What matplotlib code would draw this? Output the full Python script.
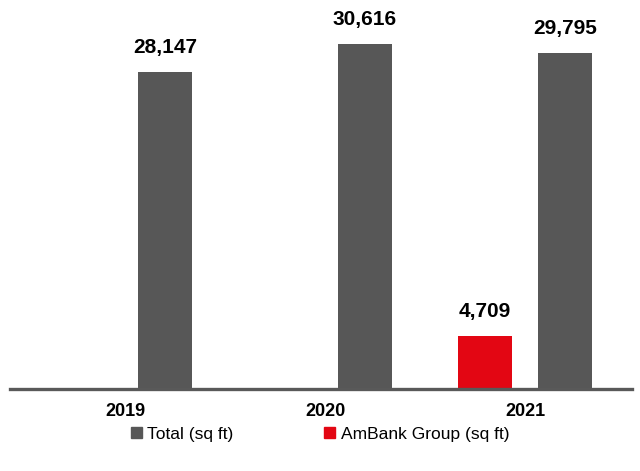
import matplotlib.pyplot as plt
from matplotlib.patches import Patch
import numpy as np

plt.rcParams['font.family'] = ['Liberation Sans', 'DejaVu Sans']

# Data
years = ["2019", "2020", "2021"]
total_sqft = [28147, 30616, 29795]
ambank_sqft = [None, None, 4709]

gray = "#575757"
red = "#E30613"

fig = plt.figure(figsize=(6.4, 4.71), dpi=100)
ax = fig.add_axes([0.0156, 0.174, 0.972, 0.806])

x = np.arange(len(years))
w = 0.27
off = 0.2

# Total bars on the right of each group
bars_total = ax.bar(x + off, total_sqft, width=w, color=gray, zorder=2)

# AmBank bars on the left, only where there is a value
amb_x = [xi - off for xi, v in zip(x, ambank_sqft) if v is not None]
amb_v = [v for v in ambank_sqft if v is not None]
bars_amb = ax.bar(amb_x, amb_v, width=w, color=red, zorder=2)

for bars in (bars_total, bars_amb):
    for b in bars:
        h = b.get_height()
        ax.annotate(f"{h:,.0f}", (b.get_x() + b.get_width() / 2, h),
                    xytext=(0, 11), textcoords="offset points",
                    ha="center", va="bottom", fontsize=15,
                    fontweight="bold", color="black", annotation_clip=False)

ax.set_xlim(-0.575, 2.535)
ax.set_ylim(0, 33700)
ax.set_xticks(x)
ax.set_xticklabels(years, fontsize=13, fontweight="bold")
ax.tick_params(axis="x", length=0, pad=10)
ax.set_yticks([])

for s in ("top", "right", "left"):
    ax.spines[s].set_visible(False)
ax.spines["bottom"].set_color("#595959")
ax.spines["bottom"].set_linewidth(2.4)
ax.spines["bottom"].set_zorder(3)

handles = [Patch(color=gray, label="Total (sq ft)"),
           Patch(color=red, label="AmBank Group (sq ft)")]
fig.legend(handles=handles, loc="center", bbox_to_anchor=(0.5, 0.078),
           ncol=2, frameon=False, fontsize=12.5, handlelength=0.65,
           handleheight=0.65, handletextpad=0.3, columnspacing=5.2)

fig.savefig("out.png", dpi=100)
